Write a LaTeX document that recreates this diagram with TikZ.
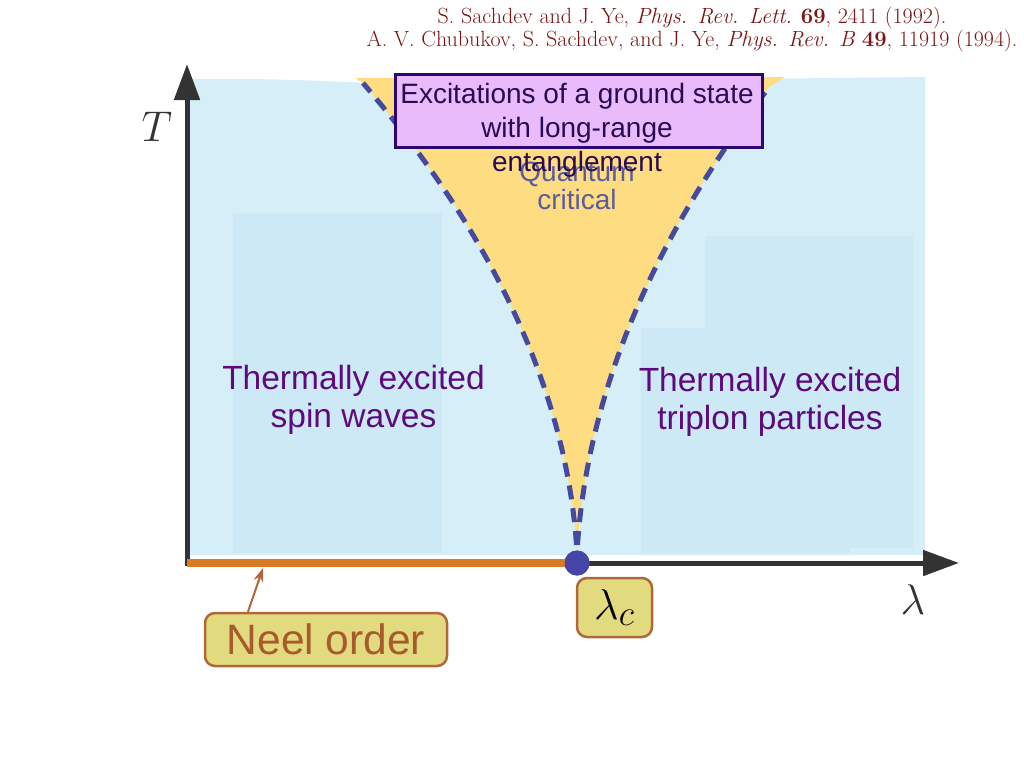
\documentclass[tikz,border=0pt]{standalone}
\usepackage{fontspec}
\setsansfont{Liberation Sans}
\usetikzlibrary{arrows.meta}
\definecolor{bgblue}{HTML}{D6EEF7}
\definecolor{inblue}{HTML}{CDE9F5}
\definecolor{fanyel}{HTML}{FDDC82}
\definecolor{dashc}{HTML}{454A9E}
\definecolor{boxfill}{HTML}{E9BBFB}
\definecolor{boxline}{HTML}{2A0870}
\definecolor{boxtext}{HTML}{2B0A55}
\definecolor{qctext}{HTML}{5B5C9C}
\definecolor{thtext}{HTML}{5E0A7E}
\definecolor{orangeln}{HTML}{DB7B25}
\definecolor{khaki}{HTML}{E2DA7E}
\definecolor{khakiln}{HTML}{B0683A}
\definecolor{khakitx}{HTML}{A85A2C}
\definecolor{dotc}{HTML}{4646A8}
\definecolor{axisc}{HTML}{333333}
\definecolor{citec}{HTML}{7B1515}
\tikzset{
  axisline/.style={draw=axisc, line width=5pt, -{Triangle[length=36pt,width=25pt]}},
  fandash/.style={draw=dashc, line width=5pt, dash pattern=on 14pt off 9pt},
  thermal/.style={font=\sffamily\fontsize{33.5}{38.5}\selectfont, text=thtext, align=center, inner sep=0pt},
  tagbox/.style={draw=khakiln, fill=khaki, line width=2.5pt, rounded corners=10pt},
  bigmath/.style={font=\fontsize{24.88}{24.88}\selectfont, scale=1.728, text=axisc, inner sep=0pt},
}
\begin{document}
\begin{tikzpicture}[x=1pt,y=-1pt]
\useasboundingbox (0,0) rectangle (1024,768);
% background regions
\fill[bgblue] (190,79) .. controls (280,78) and (340,82) .. (370,83) -- (925,77) -- (925,555) -- (190,555) -- cycle;
\fill[inblue] (233,213) rectangle (442,553);
\fill[inblue] (705,236) rectangle (913,548);
\fill[inblue] (641,328) rectangle (850,553);
% fan
\fill[fanyel] plot[domain=4.69:0, samples=40] ({577-6*\x-8.45*\x*\x},{552-100*\x})
  -- plot[domain=0:4.65, samples=40] ({577+6*\x+7.6*\x*\x},{552-100*\x})
  -- (785,77) -- (355,78) -- cycle;
\draw[fandash] plot[domain=0.07:4.69, samples=40] ({577-6*\x-8.45*\x*\x},{552-100*\x});
\draw[fandash] plot[domain=0.07:4.65, samples=40] ({577+6*\x+7.6*\x*\x},{552-100*\x});
% quantum critical
\node[font=\sffamily\fontsize{28}{28}\selectfont, text=qctext, align=center, inner sep=0pt] (qc) at (577,185.5) {Quantum\\critical};
% axes
\coordinate (orig) at (187,563);
\coordinate (ttip) at (187,64);
\coordinate (ltip) at (959,563);
\draw[axisline] (187,565.5) -- (ttip);
\draw[axisline] (orig) -- (ltip);
\node[bigmath] (T) at (157,127) {$T$};
\node[bigmath] (lam) at (913,600) {$\lambda$};
% orange line and dot
\node[circle, fill=dotc, minimum size=25pt, inner sep=0pt] (qcp) at (577,563) {};
\draw[orangeln, line width=8pt] (orig) -- (qcp.center);
\node[circle, fill=dotc, minimum size=25pt, inner sep=0pt] at (qcp) {};
% excitations box
\node[draw=boxline, fill=boxfill, line width=3pt, minimum width=367pt, minimum height=73pt, inner sep=0pt] (exbox) at (578.5,110.5) {};
\node[font=\sffamily\fontsize{28}{34}\selectfont, text=boxtext, align=center, inner sep=0pt] (extext) at (577,130) {Excitations of a ground state\\with long-range\\entanglement};
% thermal labels
\node[thermal] (left) at (353.5,400) {Thermally excited\\spin waves};
\node[thermal] (right) at (770,402) {Thermally excited\\triplon particles};
% tags
\node[tagbox, minimum width=242pt, minimum height=53pt, inner sep=0pt, font=\sffamily\fontsize{42.5}{42.5}\selectfont, text=khakitx] (neel) at (326,639.5) {Neel order};
\node[tagbox, minimum width=75pt, minimum height=59pt, inner sep=0pt] (lamc) at (614.5,607.5) {};
\node[bigmath, text=black] (lamctext) at (lamc) {$\lambda_c$};
\coordinate (neelpt) at (263,568);
\draw[khakiln, line width=2pt, -{Stealth[length=14pt,width=10pt]}] ([xshift=-78pt]neel.north) -- (neelpt);
% citations
\node[font=\fontsize{22}{23}\selectfont, text=citec, align=center, inner sep=0pt] (cite) at (692,30) {S. Sachdev and J. Ye, \textit{Phys. Rev. Lett.} \textbf{69}, 2411 (1992).\\A. V. Chubukov, S. Sachdev, and J. Ye, \textit{Phys. Rev. B} \textbf{49}, 11919 (1994).};
\end{tikzpicture}
\end{document}
